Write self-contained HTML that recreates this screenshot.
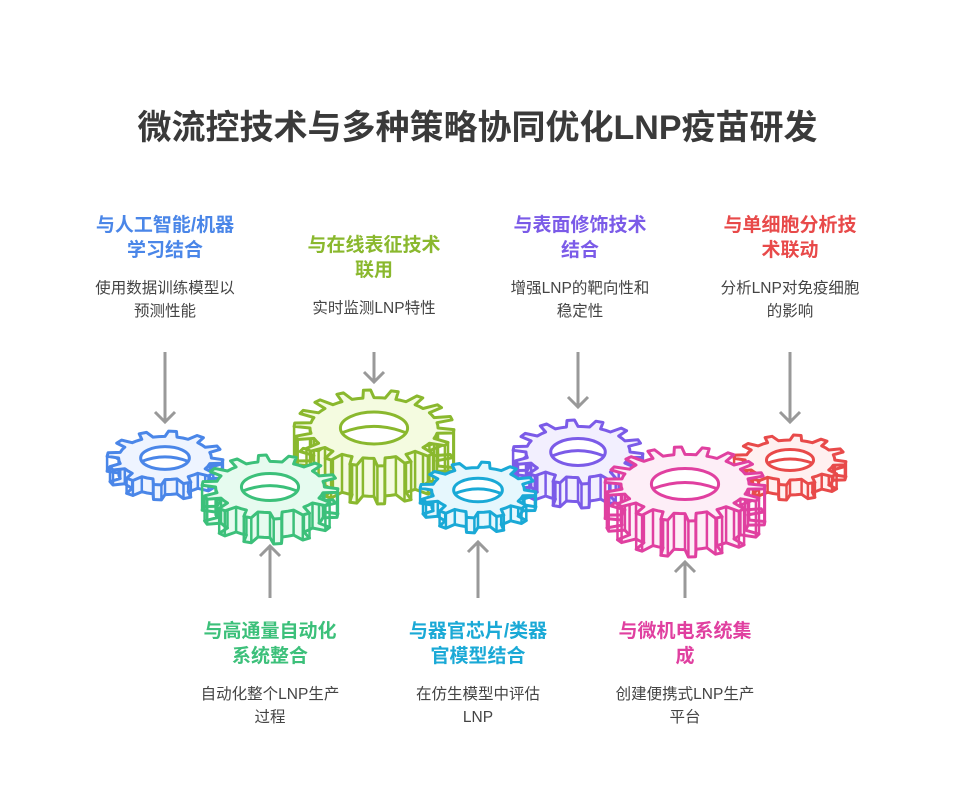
<!DOCTYPE html>
<html><head><meta charset="utf-8"><style>
body{margin:0;width:955px;height:810px;background:#fff;position:relative;overflow:hidden;font-family:"Liberation Sans","Noto Sans CJK SC",sans-serif}
.t{position:absolute;left:0;width:955px;top:100px;text-align:center;font-size:34px;font-weight:bold;color:#3a3a3a}
.b{position:absolute;width:170px;text-align:center}
.h{font-size:19px;font-weight:bold;line-height:25px}
.d{font-size:15.5px;color:#444;line-height:23px;margin-top:14px}
svg{position:absolute;left:0;top:0}
</style></head><body>
<div class="t">微流控技术与多种策略协同优化LNP疫苗研发</div>
<div class="b" style="left:80px;top:213px"><div class="h" style="color:#4a86e8">与人工智能/机器<br>学习结合</div><div class="d">使用数据训练模型以<br>预测性能</div></div>
<div class="b" style="left:289px;top:233px"><div class="h" style="color:#8ab82e">与在线表征技术<br>联用</div><div class="d">实时监测LNP特性</div></div>
<div class="b" style="left:495px;top:213px"><div class="h" style="color:#7b5be8">与表面修饰技术<br>结合</div><div class="d">增强LNP的靶向性和<br>稳定性</div></div>
<div class="b" style="left:705px;top:213px"><div class="h" style="color:#e84a4a">与单细胞分析技<br>术联动</div><div class="d">分析LNP对免疫细胞<br>的影响</div></div>
<div class="b" style="left:185px;top:619px"><div class="h" style="color:#3cc07a">与高通量自动化<br>系统整合</div><div class="d">自动化整个LNP生产<br>过程</div></div>
<div class="b" style="left:393px;top:619px"><div class="h" style="color:#1aa9d6">与器官芯片/类器<br>官模型结合</div><div class="d">在仿生模型中评估<br>LNP</div></div>
<div class="b" style="left:600px;top:619px"><div class="h" style="color:#e040a0">与微机电系统集<br>成</div><div class="d">创建便携式LNP生产<br>平台</div></div>
<svg id="s" width="955" height="810"></svg>
<script>
var s=document.getElementById('s'),ns='http://www.w3.org/2000/svg';
function el(t,a){var e=document.createElementNS(ns,t);for(var k in a)e.setAttribute(k,a[k]);s.appendChild(e);return e}
function arrow(x,y1,y2){el('line',{x1:x,y1:y1,x2:x,y2:y2,stroke:'#999','stroke-width':3});var d=y2>y1?-1:1;
el('polyline',{points:(x-10)+','+(y2+10*d)+' '+x+','+y2+' '+(x+10)+','+(y2+10*d),fill:'none',stroke:'#999','stroke-width':3})}
arrow(165,352,422);arrow(374,352,382);arrow(578,352,407);arrow(790,352,422);
arrow(270,598,546);arrow(478,598,542);arrow(685,598,562);
function gear(cx,cy,rx,ry,dep,n,c,f){
var pts=[],tips=[];for(var i=0;i<n;i++){var a0=i*2*Math.PI/n,st=2*Math.PI/n;
[[0,.8],[.12,1],[.38,1],[.5,.8],[.75,.8]].forEach(function(p,j){var a=a0+p[0]*st;var q=[cx+Math.cos(a)*rx*p[1],cy+Math.sin(a)*ry*p[1]];pts.push(q);if(j<4)tips.push(q);});}
var ps=function(o){return pts.map(function(p){return p[0].toFixed(1)+','+(p[1]+o).toFixed(1)}).join(' ')};
el('polygon',{points:ps(dep),fill:f,stroke:c,'stroke-width':3,'stroke-linejoin':'round'});
var g='';tips.forEach(function(p){if(p[1]>=cy-ry*0.1)g+='M'+p[0].toFixed(1)+','+p[1].toFixed(1)+'v'+dep;});
el('path',{d:g,stroke:c,'stroke-width':2.5});
el('polygon',{points:ps(0),fill:f,stroke:c,'stroke-width':3,'stroke-linejoin':'round'});
var hx=rx*.42,hy=ry*.42;
el('ellipse',{cx:cx,cy:cy,rx:hx,ry:hy,fill:'#fff',stroke:c,'stroke-width':3});
el('path',{d:'M'+(cx-hx*.95)+','+(cy+hy*.3)+' Q'+cx+','+(cy-hy*.5)+' '+(cx+hx*.95)+','+(cy+hy*.3),fill:'none',stroke:c,'stroke-width':3});
}
gear(374,428,80,38,38,18,'#8ab82e','#f4fbe0');
gear(578,452,65,32,24,14,'#7b5be8','#f2effe');
gear(790,460,56,25,15,12,'#e84a4a','#fff0f0');
gear(165,458,58,27,15,12,'#4a86e8','#eef4ff');
gear(270,487,68,32,25,14,'#3cc07a','#e6fbef');
gear(478,490,58,28,15,12,'#1aa9d6','#e6f7fd');
gear(685,484,80,37,36,18,'#e040a0','#fdeef7');
</script>
</body></html>
